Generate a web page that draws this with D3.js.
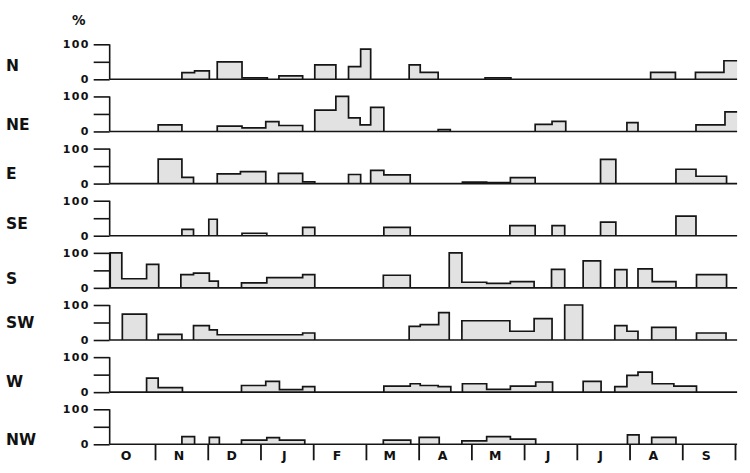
<!DOCTYPE html>
<html>
<head>
<meta charset="utf-8">
<script src="https://cdn.jsdelivr.net/npm/d3@7"></script>
<style>
  html, body { margin: 0; padding: 0; background: #fff; }
  svg { display: block; }
  text { font-family: "DejaVu Sans", "Liberation Sans", sans-serif; font-weight: bold; fill: #111; }
</style>
</head>
<body>
<svg id="chart" width="750" height="473"></svg>
<script>
// ---- data (month units: 0 = start of October, 12 = end of September) ----
const months = ["O", "N", "D", "J", "F", "M", "A", "M", "J", "J", "A", "S"];
const directions = ["N", "NE", "E", "SE", "S", "SW", "W", "NW"];
const yTickValues = [0, 50, 100];
const yTickLabels = ["0", "", "100"];
const unitLabel = "%";

// each segment: [start month, end month, percent]
const N = [[1.51,1.75,19],[1.75,2.03,24],[2.18,2.65,50],[2.65,3.13,4],[3.35,3.80,10],
  [4.03,4.43,41],[4.67,4.90,36],[4.90,5.09,86],[5.82,6.03,41],[6.03,6.37,20],
  [7.26,7.75,4],[10.40,10.87,20],[11.25,11.79,20],[11.79,12.04,53]];
const NE = [[1.06,1.51,19],[2.18,2.65,15],[2.65,3.10,10],[3.10,3.35,28],[3.35,3.80,17],
  [4.03,4.43,61],[4.43,4.67,100],[4.67,4.89,39],[4.89,5.09,19],[5.09,5.34,69],
  [6.37,6.60,5],[8.21,8.53,20],[8.53,8.79,29],[9.95,10.16,25],[11.26,11.81,19],[11.81,12.04,56]];
const E = [[1.06,1.51,70],[1.51,1.73,18],[2.18,2.62,28],[2.62,3.10,34],[3.34,3.80,29],[3.80,4.03,5],
  [4.67,4.90,26],[5.09,5.34,38],[5.34,5.84,25],[6.83,7.29,4],[7.29,7.74,3],[7.74,8.21,17],
  [9.45,9.74,69],[10.88,11.26,41],[11.26,11.84,21]];
const SE = [[1.51,1.73,18],[2.02,2.18,47],[2.65,3.12,7],[3.80,4.03,24],[5.34,5.84,24],
  [7.73,8.21,29],[8.53,8.77,29],[9.45,9.74,39],[10.88,11.26,56]];
const S = [[0.15,0.37,100],[0.37,0.84,26],[0.84,1.07,67],[1.49,1.73,38],[1.73,2.03,42],[2.03,2.20,19],
  [2.64,3.12,14],[3.12,3.80,29],[3.80,4.03,38],[5.33,5.84,36],[6.58,6.82,100],[6.82,7.29,16],
  [7.29,7.74,13],[7.74,8.19,18],[8.52,8.77,53],[9.12,9.45,77],[9.72,9.95,52],[10.16,10.43,54],
  [10.43,10.88,18],[11.27,11.84,38]];
const SW = [[0.38,0.84,74],[1.06,1.51,16],[1.73,2.03,41],[2.03,2.18,29],[2.18,3.80,15],[3.80,4.03,20],
  [5.82,6.03,39],[6.03,6.38,44],[6.38,6.58,78],[6.82,7.73,55],[7.73,8.19,25],[8.19,8.53,61],
  [8.77,9.11,100],[9.72,9.95,41],[9.95,10.16,25],[10.42,10.88,36],[11.27,11.83,20]];
const W = [[0.84,1.06,40],[1.06,1.52,13],[2.64,3.10,19],[3.10,3.36,31],[3.36,3.80,7],[3.80,4.03,16],
  [5.34,5.84,17],[5.84,6.03,24],[6.03,6.37,19],[6.37,6.61,16],[6.83,7.29,24],[7.29,7.74,8],
  [7.74,8.22,17],[8.22,8.54,29],[9.12,9.46,31],[9.72,9.95,16],[9.95,10.16,48],[10.16,10.43,57],
  [10.43,10.84,24],[10.84,11.27,17]];
const NW = [[1.51,1.75,22],[2.03,2.22,20],[2.64,3.12,12],[3.12,3.36,19],[3.36,3.84,12],
  [5.33,5.85,12],[6.01,6.39,20],[6.82,7.29,10],[7.29,7.74,22],[7.74,8.22,15],
  [9.96,10.18,27],[10.42,10.88,20]];
const seriesByDirection = { N, NE, E, SE, S, SW, W, NW };

// ---- layout ----
const svg = d3.select("#chart");
const axisStart = 0.14, axisEnd = 12.04;
const x = d3.scaleLinear().domain([0, 12]).range([102.3, 735]);
const firstBase = 79.3, panelStep = 52.14, panelH = 35;
const labelDy = [-8.6, -1, -4.4, -6.7, -4, -11.7, -5, 0.5];
const ink = "#151515", fillGrey = "#e2e2e2";

function groupSegments(segs) {
  const groups = [];
  segs.forEach(s => {
    const g = groups[groups.length - 1];
    if (g && Math.abs(g[g.length - 1][1] - s[0]) < 0.015) g.push(s);
    else groups.push([s]);
  });
  return groups;
}

directions.forEach((dir, i) => {
  const base = firstBase + i * panelStep;
  const y = d3.scaleLinear().domain([0, 100]).range([base, base - panelH]);
  const g = svg.append("g");

  // step bars
  const line = d3.line().x(d => x(d[0])).y(d => y(d[1]));
  groupSegments(seriesByDirection[dir]).forEach(grp => {
    const pts = [[grp[0][0], 0]];
    grp.forEach(s => { pts.push([s[0], s[2]]); pts.push([s[1], s[2]]); });
    const endM = grp[grp.length - 1][1];
    const closed = pts.concat([[endM, 0]]);
    g.append("path").attr("d", line(closed) + "Z")
      .attr("fill", fillGrey).attr("stroke", "none");
    const outline = endM >= axisEnd - 0.01 ? pts : closed;
    g.append("path").attr("d", line(outline))
      .attr("fill", "none").attr("stroke", ink)
      .attr("stroke-width", 1.7).attr("stroke-linejoin", "miter");
  });

  // baseline
  g.append("line")
    .attr("x1", x(axisStart)).attr("x2", x(axisEnd))
    .attr("y1", y(0)).attr("y2", y(0))
    .attr("stroke", ink).attr("stroke-width", 1.6);

  // y axis
  const yAxis = d3.axisLeft(y).tickValues(yTickValues).tickSize(16).tickPadding(4)
    .tickFormat((d, k) => yTickLabels[k]);
  const ag = g.append("g").attr("transform", `translate(${x(axisStart)},0)`).call(yAxis);
  ag.select(".domain").attr("d", `M0,${y(0)}V${y(100)}`).attr("stroke", ink).attr("stroke-width", 1.6);
  ag.selectAll(".tick line").attr("stroke", ink).attr("stroke-width", 1.6);
  ag.selectAll(".tick text").attr("fill", ink)
    .style("font-family", "'DejaVu Sans', sans-serif").style("font-weight", "bold")
    .style("font-size", "11px").style("letter-spacing", "1.3px");

  // direction label
  g.append("text").attr("x", 6).attr("y", base + labelDy[i])
    .style("font-size", "15.5px").text(dir);
});

// unit label
svg.append("text").attr("x", 72).attr("y", 24.5).style("font-size", "13.5px").text(unitLabel);

// month axis
const lastBase = firstBase + (directions.length - 1) * panelStep;
const monthAxis = d3.axisBottom(x).tickValues(d3.range(1, 13)).tickSize(16).tickFormat("");
const mg = svg.append("g").attr("transform", `translate(0,${lastBase})`).call(monthAxis);
mg.select(".domain").remove();
mg.selectAll(".tick line").attr("stroke", ink).attr("stroke-width", 1.8);
svg.append("g").selectAll("text").data(months).join("text")
  .attr("x", (d, k) => x(k + 0.5) - 2.5).attr("y", lastBase + 16)
  .attr("text-anchor", "middle").style("font-size", "12.5px").text(d => d);
</script>
</body>
</html>
